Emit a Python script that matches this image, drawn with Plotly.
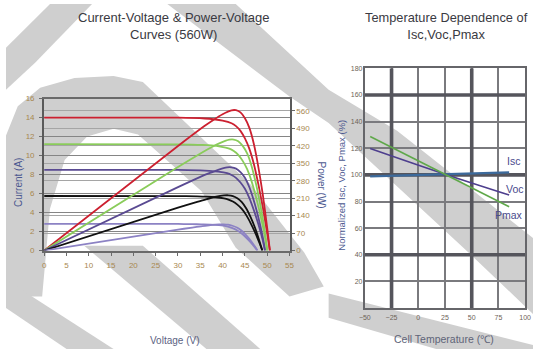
import plotly.graph_objects as go

W, H = 539, 354
def px(x): return x / W
def py(y): return 1 - y / H

# ---------------- data: I-V and P-V curves (left chart) ----------------
red_v = [0, 30, 36, 38, 40, 42, 43, 44, 45, 46, 47, 48, 49, 50, 50.6]
red_i = [14.0, 13.98, 13.9, 13.82, 13.68, 13.4, 13.1, 12.6, 11.8, 10.7, 9.1, 7.0, 4.6, 1.8, 0]
red_p = [0, 419.4, 500.4, 525.2, 547.2, 562.8, 563.3, 554.4, 531, 492.2, 427.7, 336, 225.4, 90, 0]

green_v = [0, 30, 35.5, 37.5, 39.5, 41.5, 42.5, 43.5, 44.5, 45.5, 46.5, 47.5, 48.5, 49.5, 50.0]
green_i = [11.2, 11.18, 11.12, 11.06, 10.94, 10.72, 10.48, 10.08, 9.44, 8.56, 7.28, 5.6, 3.68, 1.44, 0]
green_p = [0, 335.4, 394.8, 414.8, 432.1, 444.9, 445.4, 438.5, 420.1, 389.5, 338.5, 266, 178.5, 71.3, 0]

purple_v = [0, 30, 35, 37, 39, 41, 42, 43, 44, 45, 46, 47, 48, 49, 49.5]
purple_i = [8.5, 8.49, 8.44, 8.39, 8.31, 8.14, 7.95, 7.65, 7.16, 6.5, 5.52, 4.25, 2.79, 1.09, 0]
purple_p = [0, 254.7, 295.4, 310.4, 324.1, 333.7, 333.9, 329, 315, 292.5, 253.9, 199.8, 133.9, 53.4, 0]

black_v = [0, 30, 34.3, 36.3, 38.3, 40.3, 41.3, 42.3, 43.3, 44.3, 45.3, 46.3, 47.3, 48.3, 48.9]
black_i = [5.74, 5.73, 5.70, 5.67, 5.61, 5.49, 5.37, 5.17, 4.84, 4.39, 3.73, 2.87, 1.89, 0.74, 0]
black_p = [0, 171.9, 195.5, 205.8, 214.9, 221.2, 221.8, 218.7, 209.6, 194.5, 169, 132.9, 89.4, 35.7, 0]

lilac_v = [0, 30, 33.2, 35.2, 37.2, 39.2, 40.2, 41.2, 42.2, 43.2, 44.2, 45.2, 46.2, 47.2, 47.8]
lilac_i = [2.8, 2.8, 2.78, 2.76, 2.74, 2.68, 2.62, 2.52, 2.36, 2.14, 1.82, 1.4, 0.92, 0.36, 0]
lilac_p = [0, 84, 92.3, 97.2, 101.9, 105.1, 105.3, 103.8, 99.6, 92.4, 80.4, 63.3, 42.5, 17, 0]

volt_ticks = [0, 5, 10, 15, 20, 25, 30, 35, 40, 45, 50, 55]
curr_ticks = [0, 2, 4, 6, 8, 10, 12, 14, 16]
power_ticks = [0, 70, 140, 210, 280, 350, 420, 490, 560]

# ---------------- data: temperature dependence (right chart) ----------------
temp = [-45, 25, 85]
isc = [98.8, 100.2, 101.9]
voc = [119.8, 100.5, 84.9]
pmax = [128.8, 100.2, 76.1]
temp_ticks = [-50, -25, 0, 25, 50, 75, 100]
norm_ticks = [20, 40, 60, 80, 100, 120, 140, 160, 180]
thick_h = [160, 100, 40]
thick_v = [-25, 50]

fig = go.Figure()

curves = [
    (red_v, red_i, red_p, "#cc2030"),
    (green_v, green_i, green_p, "#8acc5a"),
    (purple_v, purple_i, purple_p, "#5a4a92"),
    (black_v, black_i, black_p, "#111111"),
    (lilac_v, lilac_i, lilac_p, "#8c82c4"),
]
for v, i, p, c in curves:
    fig.add_trace(go.Scatter(x=v, y=i, mode="lines", line=dict(color=c, width=1.8, shape="spline", smoothing=0.6),
                             xaxis="x", yaxis="y", showlegend=False, hoverinfo="skip"))
    fig.add_trace(go.Scatter(x=v, y=p, mode="lines", line=dict(color=c, width=1.8, shape="spline", smoothing=0.6),
                             xaxis="x", yaxis="y2", showlegend=False, hoverinfo="skip"))

fig.add_trace(go.Scatter(x=temp, y=isc, mode="lines", line=dict(color="#3c6a9c", width=2.2),
                         xaxis="x2", yaxis="y3", showlegend=False, hoverinfo="skip"))
fig.add_trace(go.Scatter(x=temp, y=voc, mode="lines", line=dict(color="#4e3f8e", width=1.6, shape="spline"),
                         xaxis="x2", yaxis="y3", showlegend=False, hoverinfo="skip"))
fig.add_trace(go.Scatter(x=temp, y=pmax, mode="lines", line=dict(color="#5fa84a", width=1.6),
                         xaxis="x2", yaxis="y3", showlegend=False, hoverinfo="skip"))

# ---------------- watermark (light grey swoosh) ----------------
def poly(pts):
    return "M " + " L ".join(f"{px(x):.4f},{py(y):.4f}" for x, y in pts) + " Z"

wm = "#cfcfcf"
wm_polys = [
    [(0, 300), (0, 135), (12, 105), (35, 86), (70, 76), (110, 74), (140, 80), (250, 185), (305, 255), (325, 290),
     (290, 300), (235, 250), (200, 192), (135, 134), (110, 128), (83, 136), (60, 160), (45, 210), (37, 300)],
    [(165, 0), (235, 0), (330, 88), (400, 130), (539, 240), (539, 318), (473, 255), (330, 122), (290, 95)],
    [(80, 248), (140, 248), (260, 354), (205, 354)],
    [(0, 283), (0, 312), (62, 354), (110, 354)],
    [(330, 297), (539, 350), (539, 354), (440, 354), (330, 322)],
    [(45, 0), (88, 0), (30, 60), (0, 88), (0, 45)],
]
shapes = []
for pts in wm_polys:
    shapes.append(dict(type="path", path=poly(pts), xref="paper", yref="paper",
                       fillcolor=wm, line=dict(width=0), layer="below"))

for yv in thick_h:
    shapes.append(dict(type="line", xref="x2", yref="y3", x0=-50, x1=100, y0=yv, y1=yv,
                       line=dict(color="#55555c", width=3.6), layer="between"))
for xv in thick_v:
    shapes.append(dict(type="line", xref="x2", yref="y3", x0=xv, x1=xv, y0=0, y1=180,
                       line=dict(color="#55555c", width=3.6), layer="between"))

tickfont_l = dict(family="Liberation Sans", size=8, color="#a88850")
tickfont_r = dict(family="Liberation Sans", size=7, color="#6e6458")

fig.update_layout(
    width=W, height=H,
    margin=dict(l=0, r=0, t=0, b=0),
    paper_bgcolor="white",
    plot_bgcolor="rgba(0,0,0,0)",
    shapes=shapes,
    xaxis=dict(domain=[px(39), px(290)], range=[0, 55], tickvals=volt_ticks, tickfont=tickfont_l,
               showgrid=False, zeroline=False, showline=True, linecolor="#6a6a6a", linewidth=2, mirror=True,
               ticks="outside", ticklen=3, tickcolor="#6a6a6a", anchor="y", ticklabelstandoff=3),
    yaxis=dict(domain=[py(253), py(97)], range=[0, 16], tickvals=curr_ticks, tickfont=tickfont_l,
               showgrid=True, gridcolor="#858585", gridwidth=1.3, zeroline=False,
               showline=True, linecolor="#5a5a5a", linewidth=2, ticks="outside", ticklen=3,
               tickcolor="#6a6a6a", anchor="x", ticklabelstandoff=3),
    yaxis2=dict(overlaying="y", side="right", range=[0, 610], tickvals=power_ticks, tickfont=tickfont_l,
                showgrid=True, gridcolor="#a5a5a5", gridwidth=1, zeroline=False,
                showline=True, linecolor="#5a5a5a", linewidth=2.4, ticks="outside", ticklen=3,
                tickcolor="#6a6a6a", anchor="x"),
    xaxis2=dict(domain=[px(367), px(531)], range=[-50, 100], tickvals=temp_ticks, tickfont=tickfont_r,
                showgrid=True, gridcolor="#7a7a7e", gridwidth=1.6, zeroline=False,
                showline=True, linecolor="#66666a", linewidth=2, mirror=True, anchor="y3", ticklabelstandoff=2),
    yaxis3=dict(domain=[py(312), py(66)], range=[0, 180], tickvals=norm_ticks, tickfont=tickfont_r,
                showgrid=True, gridcolor="#7a7a7e", gridwidth=1.6, zeroline=False,
                showline=True, linecolor="#66666a", linewidth=2, mirror=True, anchor="x2", ticklabelstandoff=-1),
)

ann = []
def A(text, x, y, size=8, color="#444", angle=0, anchor="center"):
    ann.append(dict(text=text, x=px(x), y=py(y), xref="paper", yref="paper", showarrow=False,
                    xanchor=anchor, yanchor="middle", textangle=angle,
                    font=dict(family="Liberation Sans", size=size, color=color)))

A("Current-Voltage & Power-Voltage<br>Curves (560W)", 172, 23, size=13, color="#3a3a42")
A("Temperature Dependence of<br>Isc,Voc,Pmax", 451, 23, size=12.8, color="#3a3a42")
A("Voltage (V)", 172, 345, size=10, color="#5c6282")
A("Current (A)", 13, 183, size=10, color="#4c5890", angle=-90)
A("Power (W)", 323, 186, size=10, color="#4c5890", angle=90)
A("Normalized Isc, Voc, Pmax (%)", 343, 186, size=9.5, color="#4c5890", angle=-90)
A("Cell Temperature (℃)", 448, 344, size=10.5, color="#606478")
A("Isc", 519, 161, size=10.5, color="#4a4a8c")
A("Voc", 521, 190, size=10.5, color="#4a4a8c")
A("Pmax", 514, 217, size=10.5, color="#4a4a8c")
fig.update_layout(annotations=ann)

fig.write_html("out.html", config={"displayModeBar": False},
               post_script="document.body.style.margin='0px';document.body.style.overflow='hidden';")
